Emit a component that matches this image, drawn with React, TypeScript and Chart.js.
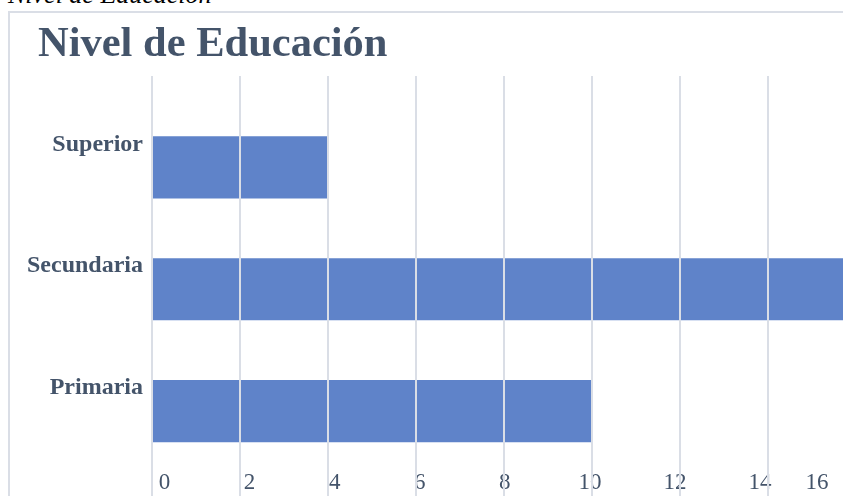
import React, { useEffect, useRef } from "react";
import { Chart, registerables } from "chart.js";

Chart.register(...registerables);

const CAPTION = "Nivel de Educación";
const TITLE = "Nivel de Educación";
const CATEGORIES = ["Primaria", "Secundaria", "Superior"];
const VALUES = [10, 16, 4];
const X_TICKS = [0, 2, 4, 6, 8, 10, 12, 14, 16];

const SERIF = "'Liberation Serif', 'Times New Roman', serif";
const TEXT = "#44546a";
const GRID = "#dadee6";
const BAR = "#5f83c9";

const widenYLabelClip = {
  id: "widenYLabelClip",
  afterLayout(chart: any) {
    const y = chart.scales.y;
    if (y) y.left = 0;
  },
};

export default function App() {
  const ref = useRef<HTMLCanvasElement | null>(null);

  useEffect(() => {
    if (!ref.current) return;
    const labelTicks = (padding: number) => ({
      color: TEXT,
      font: { family: SERIF, size: 23 },
      padding,
      mirror: true,
      autoSkip: false,
      maxRotation: 0,
    });
    const chart = new Chart(ref.current, {
      type: "bar",
      data: {
        datasets: [
          {
            data: VALUES.map((v, i) => ({ x: v, y: i })),
            backgroundColor: BAR,
            borderWidth: 0,
            barPercentage: 0.51,
            categoryPercentage: 1,
            xAxisID: "x",
            yAxisID: "y",
          },
        ],
      },
      plugins: [widenYLabelClip],
      options: {
        indexAxis: "y",
        responsive: false,
        animation: false,
        devicePixelRatio: 1,
        layout: { padding: { left: 28, right: 24, top: 0, bottom: 0 } },
        plugins: {
          legend: { display: false },
          tooltip: { enabled: false },
          title: {
            display: true,
            text: TITLE,
            align: "start",
            color: TEXT,
            font: { family: SERIF, size: 42.5, weight: "bold" },
            padding: { top: 7, bottom: 5 },
          },
        },
        scales: {
          x: {
            type: "linear",
            axis: "x",
            position: "bottom",
            weight: 0,
            offset: false,
            min: 0,
            max: 16,
            afterBuildTicks: (s: any) => {
              s.ticks = X_TICKS.map((v) => ({ value: v }));
            },
            grid: { color: GRID, lineWidth: 2, drawTicks: true, tickLength: 24, z: 1, offset: false },
            border: { display: false },
            ticks: { display: false },
          },
          xLabels: {
            type: "linear",
            axis: "x",
            position: "bottom",
            weight: 1,
            offset: false,
            min: -0.294,
            max: 16.255,
            afterBuildTicks: (s: any) => {
              s.ticks = X_TICKS.slice(0, -1).map((v) => ({ value: v }));
            },
            afterFit: (s: any) => {
              s.height = 2;
            },
            grid: { display: false, drawTicks: false },
            border: { display: false },
            ticks: labelTicks(-0.3),
          },
          xLast: {
            type: "linear",
            axis: "x",
            position: "bottom",
            weight: 2,
            offset: false,
            min: 0,
            max: 16.94,
            afterBuildTicks: (s: any) => {
              s.ticks = X_TICKS.slice(-1).map((v) => ({ value: v }));
            },
            afterFit: (s: any) => {
              s.height = 2;
            },
            grid: { display: false, drawTicks: false },
            border: { display: false },
            ticks: labelTicks(1.7),
          },
          y: {
            type: "linear",
            axis: "y",
            position: "left",
            offset: false,
            min: -0.5,
            max: 2.75,
            afterBuildTicks: (s: any) => {
              s.ticks = CATEGORIES.map((_, i) => ({ value: i }));
            },
            afterFit: (s: any) => {
              s.width = 114;
            },
            grid: { display: false, drawTicks: false, offset: false },
            border: { display: false },
            ticks: {
              callback: (v: any) => CATEGORIES[v as number] ?? "",
              color: TEXT,
              font: { family: SERIF, size: 24, weight: "bold" },
              padding: 9,
              labelOffset: -23,
              autoSkip: false,
            },
          },
        },
      } as any,
    });
    return () => chart.destroy();
  }, []);

  return (
    <div
      style={{
        position: "fixed",
        left: 0,
        top: 0,
        width: 843,
        height: 496,
        overflow: "hidden",
        background: "#ffffff",
      }}
    >
      <div
        style={{
          position: "absolute",
          left: 8,
          top: -18,
          fontFamily: SERIF,
          fontStyle: "italic",
          fontSize: 26,
          lineHeight: "26px",
          color: "#000000",
          whiteSpace: "nowrap",
        }}
      >
        {CAPTION}
      </div>
      <div
        style={{
          position: "absolute",
          left: 8,
          top: 11,
          width: 900,
          height: 520,
          borderLeft: "2px solid " + GRID,
          borderTop: "2px solid " + GRID,
        }}
      />
      <canvas
        ref={ref}
        width={870}
        height={487}
        style={{
          position: "absolute",
          left: 10,
          top: 13,
          width: 870,
          height: 487,
          display: "block",
        }}
      />
    </div>
  );
}
